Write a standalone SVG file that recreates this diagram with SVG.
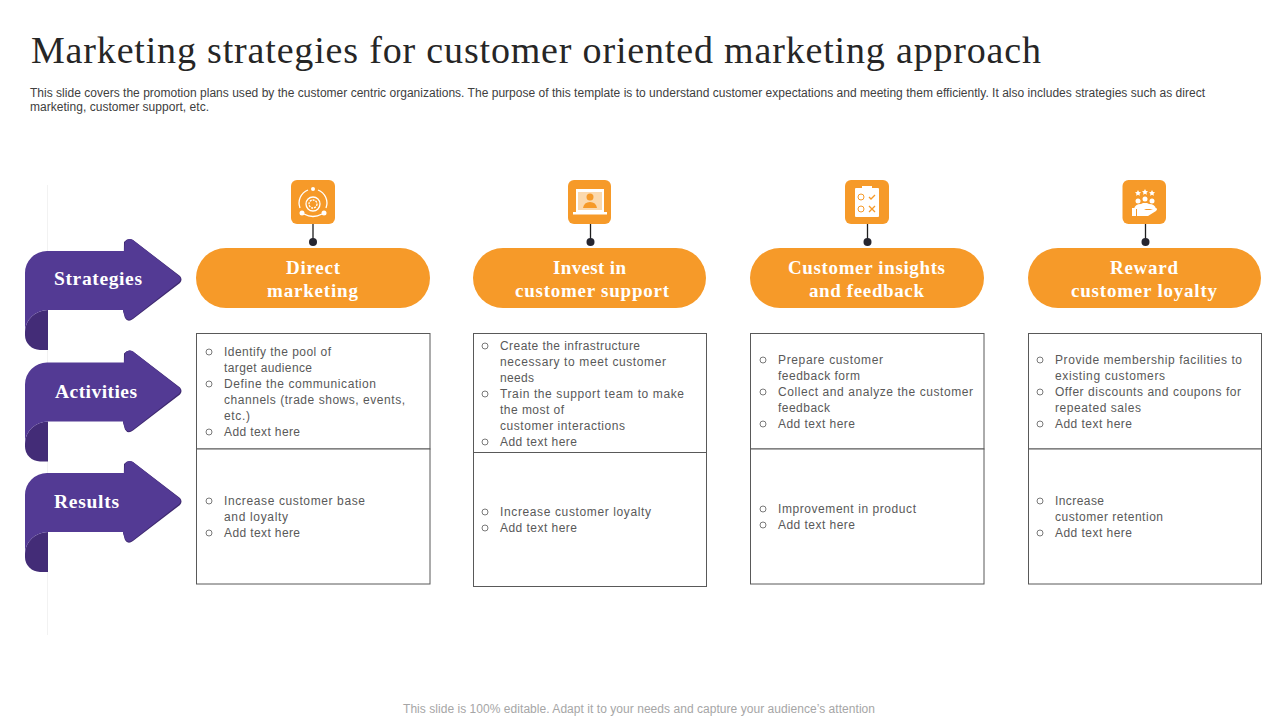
<svg xmlns="http://www.w3.org/2000/svg" width="1280" height="720" viewBox="0 0 1280 720">
<style>
.title{font-family:"Liberation Serif","DejaVu Serif",serif;font-size:38px;fill:#262626}
.sub{font-family:"Liberation Sans",Arial,sans-serif;font-size:12px;fill:#404040}
.foot{font-family:"Liberation Sans",Arial,sans-serif;font-size:12px;fill:#a6a6a6}
.lab{font-family:"Liberation Serif","DejaVu Serif",serif;font-size:19.500px;font-weight:700;fill:#fff}
.pilltxt{font-family:"Liberation Serif","DejaVu Serif",serif;font-size:19px;font-weight:700;fill:#fff}
.body{font-family:"Liberation Sans",Arial,sans-serif;font-size:12px;fill:#595959}
.bul{fill:none;stroke:#595959;stroke-width:.8}
.pill{fill:#f69a29}
.box{fill:#fff;stroke:#595959;stroke-width:1}
.ic{fill:#f69a29}
.wl{fill:none;stroke:#fff;stroke-width:1.300}
.wf{fill:#fff}
.conn{stroke:#1f1f1f;stroke-width:1.300;fill:none}
.dot{fill:#262630}
</style>
<defs>
<g id="arrow">
<path d="M48 310A23 22 0 0 0 25 332V335A15 15 0 0 0 40 350H48Z" fill="#432c77"/>
<path d="M124 242Q128 237 133 240L180 276Q183 279.500 180 283L133 319Q128 323 125 318L123 311Z" fill="#3f2a70"/>
<path d="M25 332V273A22 22 0 0 1 47 251H124L125 242Q128 237 133 240L179 276Q182 279 179 282L133 318Q128 322 125 317L123 310H48A23 22 0 0 0 25 332Z" fill="#533a94"/>
</g>
<circle id="b" class="bul" r="3"/>
</defs>
<text class="title" x="31" y="63" textLength="1010" lengthAdjust="spacing">Marketing strategies for customer oriented marketing approach</text>
<text class="sub" x="30" y="97" textLength="1175" lengthAdjust="spacing">This slide covers the promotion plans used by the customer centric organizations. The purpose of this template is to understand customer expectations and meeting them efficiently. It also includes strategies such as direct</text>
<text class="sub" x="30" y="111" textLength="179" lengthAdjust="spacing">marketing, customer support, etc.</text>
<rect x="47" y="185" width="1" height="450" fill="#f2f2f2"/>
<g id="connectors">
<path class="conn" d="M313 224V242"/><circle class="dot" cx="313" cy="242" r="4"/>
<path class="conn" d="M590.500 224V242"/><circle class="dot" cx="590.500" cy="242" r="4"/>
<path class="conn" d="M867.500 224V242"/><circle class="dot" cx="867.500" cy="242" r="4"/>
<path class="conn" d="M1145.500 224V242"/><circle class="dot" cx="1145.500" cy="242" r="4"/>
</g>
<g id="strategies"><use href="#arrow"/><text class="lab" x="54" y="285" textLength="88">Strategies</text></g>
<g id="activities"><use href="#arrow" y="111.500"/><text class="lab" x="55" y="398" textLength="82">Activities</text></g>
<g id="results"><use href="#arrow" y="222"/><text class="lab" x="54" y="508" textLength="65">Results</text></g>

<g id="col1">
<g id="icon1"><rect class="ic" x="291" y="180" width="44" height="44" rx="6"/>
<circle class="wl" cx="313" cy="204" r="7"/><circle class="wl" cx="313" cy="204" r="4" stroke-dasharray="2 1"/><path class="wl" d="M300 208A14 14 0 0 1 308 190M318 190A14 14 0 0 1 326 208M304 214Q313 219 322 214"/><circle class="wf" cx="302" cy="213" r="2.500"/><circle class="wf" cx="324" cy="213" r="2.500"/><circle class="wf" cx="313" cy="189" r="2"/></g>
<rect class="pill" x="196" y="248" width="234" height="60" rx="30"/>
<text class="pilltxt" x="286" y="274" textLength="54">Direct</text><text class="pilltxt" x="267" y="297" textLength="91">marketing</text>
<rect class="box" x="196.500" y="333.500" width="233.500" height="115.500"/><rect class="box" x="196.500" y="449" width="233.500" height="135"/>
<use href="#b" x="209" y="352"/><text class="body" x="224" y="356" textLength="107">Identify the pool of</text><text class="body" x="224" y="372" textLength="88">target audience</text>
<use href="#b" x="209" y="384"/><text class="body" x="224" y="388" textLength="152">Define the communication</text><text class="body" x="224" y="404" textLength="181">channels (trade shows, events,</text><text class="body" x="224" y="420" textLength="26">etc.)</text>
<use href="#b" x="209" y="432"/><text class="body" x="224" y="436" textLength="76">Add text here</text>
<use href="#b" x="209" y="501"/><text class="body" x="224" y="505" textLength="141">Increase customer base</text><text class="body" x="224" y="521" textLength="64">and loyalty</text>
<use href="#b" x="209" y="533"/><text class="body" x="224" y="537" textLength="76">Add text here</text>
</g>

<g id="col2">
<g id="icon2"><rect class="ic" x="568" y="180" width="43" height="44" rx="6"/>
<rect class="wf" x="576" y="189" width="28" height="23"/><rect class="wf" x="573" y="212" width="34" height="2.500"/><rect x="578" y="192" width="24" height="18" fill="#fbd9ae"/><circle class="ic" cx="590" cy="197" r="3.500"/><path class="ic" d="M583 208Q584 202 590 202Q596 202 597 208Z"/></g>
<rect class="pill" x="473" y="248" width="233" height="60" rx="30"/>
<text class="pilltxt" x="553" y="274" textLength="73">Invest in</text><text class="pilltxt" x="515" y="297" textLength="154">customer support</text>
<rect class="box" x="473.500" y="333.500" width="233" height="119"/><rect class="box" x="473.500" y="452.500" width="233" height="134"/>
<use href="#b" x="485" y="346"/><text class="body" x="500" y="350" textLength="140">Create the infrastructure</text><text class="body" x="500" y="366" textLength="166">necessary to meet customer</text><text class="body" x="500" y="382" textLength="34">needs</text>
<use href="#b" x="485" y="394"/><text class="body" x="500" y="398" textLength="184">Train the support team to make</text><text class="body" x="500" y="414" textLength="64">the most of</text><text class="body" x="500" y="430" textLength="125">customer interactions</text>
<use href="#b" x="485" y="442"/><text class="body" x="500" y="446" textLength="77">Add text here</text>
<use href="#b" x="485" y="512"/><text class="body" x="500" y="516" textLength="151">Increase customer loyalty</text>
<use href="#b" x="485" y="528"/><text class="body" x="500" y="532" textLength="77">Add text here</text>
</g>

<g id="col3">
<g id="icon3"><rect class="ic" x="845" y="180" width="44" height="44" rx="6"/>
<rect class="wf" x="855" y="188" width="24" height="29" rx="1"/><rect class="wf" x="862" y="186" width="10" height="4"/>
<circle cx="861" cy="197" r="3" fill="none" stroke="#f69a29"/><circle cx="861" cy="209" r="3" fill="none" stroke="#f69a29"/><path d="M869 197l2 2 4-4M869 206l6 6M875 206l-6 6" fill="none" stroke="#f69a29" stroke-width="1.300"/></g>
<rect class="pill" x="750" y="248" width="234" height="60" rx="30"/>
<text class="pilltxt" x="788" y="274" textLength="157">Customer insights</text><text class="pilltxt" x="809" y="297" textLength="115">and feedback</text>
<rect class="box" x="750.500" y="333.500" width="233.500" height="115.500"/><rect class="box" x="750.500" y="449" width="233.500" height="135"/>
<use href="#b" x="763" y="360"/><text class="body" x="778" y="364" textLength="105">Prepare customer</text><text class="body" x="778" y="380" textLength="82">feedback form</text>
<use href="#b" x="763" y="392"/><text class="body" x="778" y="396" textLength="195">Collect and analyze the customer</text><text class="body" x="778" y="412" textLength="52">feedback</text>
<use href="#b" x="763" y="424"/><text class="body" x="778" y="428" textLength="77">Add text here</text>
<use href="#b" x="763" y="509"/><text class="body" x="778" y="513" textLength="138">Improvement in product</text>
<use href="#b" x="763" y="525"/><text class="body" x="778" y="529" textLength="77">Add text here</text>
</g>

<g id="col4">
<g id="icon4"><rect class="ic" x="1122.500" y="180" width="43.500" height="44" rx="6"/>
<path class="wf" d="M1138 190l1 2 2 .3-1.500 1.400.4 2-1.900-1-1.900 1 .4-2-1.500-1.400 2-.3ZM1145 189l1 2 2 .3-1.500 1.400.4 2-1.900-1-1.900 1 .4-2-1.500-1.400 2-.3ZM1152 190l1 2 2 .3-1.500 1.400.4 2-1.900-1-1.900 1 .4-2-1.500-1.400 2-.3Z"/>
<circle class="wf" cx="1138" cy="201" r="2.500"/><circle class="wf" cx="1145" cy="199" r="2.500"/><circle class="wf" cx="1152" cy="201" r="2.500"/><path class="wf" d="M1134 209Q1135 204 1141 204L1143 203H1147L1149 204Q1155 204 1156 209Z"/>
<path class="wf" d="M1132 208h4v8h-4ZM1137 209Q1142 207 1146 210H1150L1156 208Q1158 209 1156 211L1148 216H1137Z"/></g>
<rect class="pill" x="1028" y="248" width="233" height="60" rx="30"/>
<text class="pilltxt" x="1110" y="274" textLength="68">Reward</text><text class="pilltxt" x="1071" y="297" textLength="146">customer loyalty</text>
<rect class="box" x="1028.500" y="333.500" width="233" height="115.500"/><rect class="box" x="1028.500" y="449" width="233" height="135"/>
<use href="#b" x="1040" y="360"/><text class="body" x="1055" y="364" textLength="187">Provide membership facilities to</text><text class="body" x="1055" y="380" textLength="110">existing customers</text>
<use href="#b" x="1040" y="392"/><text class="body" x="1055" y="396" textLength="186">Offer discounts and coupons for</text><text class="body" x="1055" y="412" textLength="86">repeated sales</text>
<use href="#b" x="1040" y="424"/><text class="body" x="1055" y="428" textLength="77">Add text here</text>
<use href="#b" x="1040" y="501"/><text class="body" x="1055" y="505" textLength="49">Increase</text><text class="body" x="1055" y="521" textLength="108">customer retention</text>
<use href="#b" x="1040" y="533"/><text class="body" x="1055" y="537" textLength="77">Add text here</text>
</g>
<text class="foot" x="403" y="713" textLength="472" lengthAdjust="spacing">This slide is 100% editable. Adapt it to your needs and capture your audience’s attention</text>
</svg>
